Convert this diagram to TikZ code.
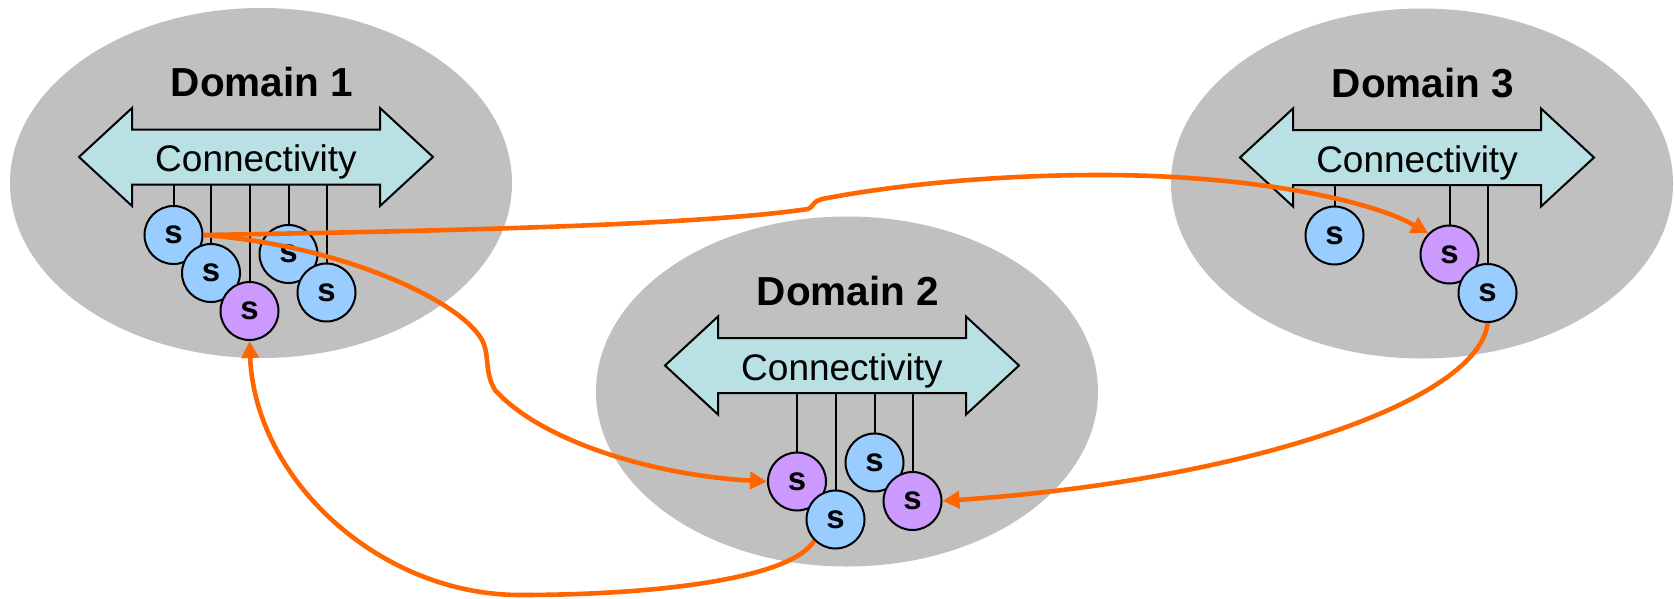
\documentclass[tikz,border=0pt]{standalone}
\usepackage{fontspec}
\setmainfont{Liberation Sans}
\usetikzlibrary{shapes.geometric,arrows.meta}
\definecolor{domaingray}{RGB}{192,192,192}
\definecolor{swblue}{RGB}{153,204,255}
\definecolor{swpurple}{RGB}{204,153,255}
\definecolor{busfill}{RGB}{185,224,226}
\definecolor{linkorange}{RGB}{255,102,0}
\begin{document}
\begin{tikzpicture}[x=0.5pt,y=-0.5pt,
  domainblob/.style={ellipse, fill=domaingray, minimum width=251pt, minimum height=175pt, inner sep=0pt},
  domlabel/.style={font=\fontsize{20.25pt}{24pt}\selectfont\bfseries, anchor=base, inner sep=0pt},
  bustext/.style={font=\fontsize{18.5pt}{22pt}\selectfont, anchor=base, inner sep=0pt},
  busshape/.style={fill=busfill, draw=black, line width=1pt, line join=miter},
  busbar/.style={minimum width=124pt, minimum height=27.5pt, inner sep=0pt},
  sw/.style={circle, draw=black, line width=1pt, minimum size=29pt, inner sep=0pt,
             font=\fontsize{16.5pt}{18pt}\selectfont\bfseries},
  swb/.style={sw, fill=swblue},
  swp/.style={sw, fill=swpurple},
  hang/.style={draw=black, line width=1pt},
  link/.style={draw=linkorange, line width=2.3pt, -{Triangle[length=8.5pt,width=8.5pt]}}
]
\useasboundingbox (0,0) rectangle (1674,599);

% double-headed connectivity bus, drawn relative to a domain centre
\newcommand\drawbus{%
  \draw[busshape] (-182,-26) -- (-129,-75) -- (-129,-53.5) -- (119,-53.5) -- (119,-75)
    -- (172,-26) -- (119,23) -- (119,1.5) -- (-129,1.5) -- (-129,23) -- cycle;}

% ---------------- Domain 1 ----------------
\begin{scope}[shift={(261,183)}]
  \node[domainblob] (d1) at (0,0) {};
  \node[domlabel] (d1t) at (1,-86) {Domain 1};
  \drawbus
  \node[busbar] (d1bus) at (-5,-26) {};
  \node[bustext] (d1con) at (-5,-11.5) {Connectivity};
  \node[swb] (d1a) at (-87.5,52) {s};
  \node[swb] (d1b) at (-50,90) {s};
  \node[swp] (d1c) at (-11.5,128) {s};
  \node[swb] (d1d) at (27.5,71) {s};
  \node[swb] (d1e) at (65.5,109.5) {s};
  \foreach \n in {d1a,d1b,d1c,d1d,d1e}
    \draw[hang] (\n.north) -- (\n.north |- d1bus.south);
\end{scope}

% ---------------- Domain 2 ----------------
\begin{scope}[shift={(847,391.5)}]
  \node[domainblob] (d2) at (0,0) {};
  \node[domlabel] (d2t) at (1,-86) {Domain 2};
  \drawbus
  \node[busbar] (d2bus) at (-5,-26) {};
  \node[bustext] (d2con) at (-5,-11.5) {Connectivity};
  \node[swp] (d2b) at (-50,90) {s};
  \node[swb] (d2c) at (-11.5,128) {s};
  \node[swb] (d2d) at (27.5,71) {s};
  \node[swp] (d2e) at (65.5,109.5) {s};
  \foreach \n in {d2b,d2c,d2d,d2e}
    \draw[hang] (\n.north) -- (\n.north |- d2bus.south);
\end{scope}

% ---------------- Domain 3 ----------------
\begin{scope}[shift={(1422,183.5)}]
  \node[domainblob] (d3) at (0,0) {};
  \node[domlabel] (d3t) at (1,-86) {Domain 3};
  \drawbus
  \node[busbar] (d3bus) at (-5,-26) {};
  \node[bustext] (d3con) at (-5,-11.5) {Connectivity};
  \node[swb] (d3a) at (-87.5,52) {s};
  \node[swp] (d3d) at (27.5,71) {s};
  \node[swb] (d3e) at (65.5,109.5) {s};
  \foreach \n in {d3a,d3d,d3e}
    \draw[hang] (\n.north) -- (\n.north |- d3bus.south);
\end{scope}

% ---------------- inter-domain links ----------------
\draw[link] (d1a.east) .. controls (450,231) and (700,225) .. (808,209)
  .. controls (814,207) and (811,202) .. (822,199)
  .. controls (900,184) and (1000,175) .. (1100,175)
  .. controls (1250,175) and (1370,200) .. (d3d.135);
\draw[link] (d1a.east) .. controls (340,245) and (460,300) .. (482,340)
  .. controls (490,355) and (484,372) .. (495,390)
  .. controls (540,440) and (650,475) .. (d2b.west);
\draw[link] (d2c.225) .. controls (790,580) and (650,595) .. (520,595)
  .. controls (380,595) and (255,480) .. (d1c.south);
\draw[link] (d3e.south) .. controls (1480,400) and (1250,480) .. (d2e.east);
\end{tikzpicture}
\end{document}
